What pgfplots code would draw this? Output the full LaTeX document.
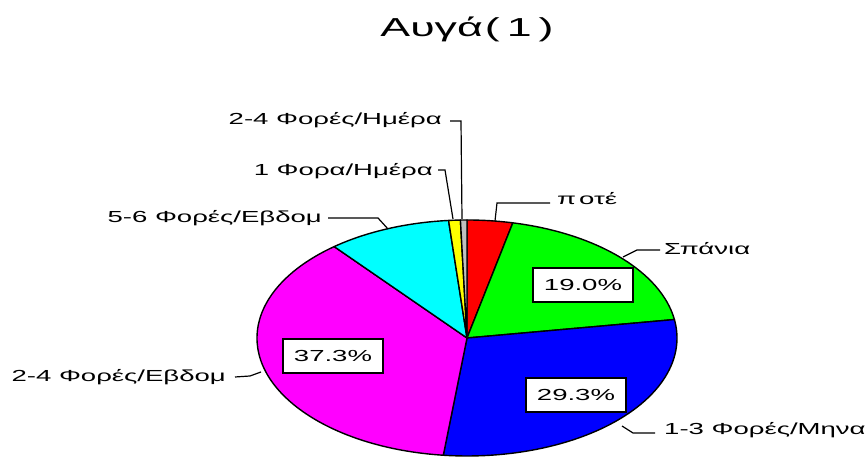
\documentclass[border=0pt]{standalone}
\usepackage{pgfplots}
\usepackage{pgfplotstable}
\pgfplotsset{compat=1.18}
\usepackage{fontspec}
\setmainfont{Liberation Sans}[FakeStretch=1.72]

\definecolor{pRed}{HTML}{FF0000}
\definecolor{pGreen}{HTML}{00FF00}
\definecolor{pBlue}{HTML}{0000FF}
\definecolor{pMagenta}{HTML}{FF00FF}
\definecolor{pCyan}{HTML}{00FFFF}
\definecolor{pYellow}{HTML}{FFFF00}
\definecolor{pGrey}{HTML}{C0C0C0}

% share of answers (%), clockwise from 12 o'clock
\pgfplotstableread{
value colour
3.5   pRed
19.0  pGreen
29.3  pBlue
37.3  pMagenta
9.5   pCyan
0.9   pYellow
0.5   pGrey
}\pietab

% start/end angles of every wedge (ellipse parameter, degrees)
\def\cum{0}
\pgfplotsinvokeforeach{0,...,6}{%
  \pgfplotstablegetelem{#1}{value}\of\pietab
  \let\v\pgfplotsretval
  \expandafter\xdef\csname pv#1\endcsname{\v}%
  \pgfplotstablegetelem{#1}{colour}\of\pietab
  \edef\tmp{\noexpand\colorlet{pie#1}{\pgfplotsretval}}\tmp
  \pgfmathsetmacro\a{90-3.6*\cum}%
  \pgfmathsetmacro\cumnew{\cum+\v}%
  \pgfmathsetmacro\b{90-3.6*\cumnew}%
  \expandafter\xdef\csname pa#1\endcsname{\a}%
  \expandafter\xdef\csname pb#1\endcsname{\b}%
  \xdef\cum{\cumnew}%
}

\def\cx{467}
\def\cy{119}
\def\rx{210}
\def\ry{118}

\begin{document}
\begin{tikzpicture}
\begin{axis}[
  hide axis, scale only axis,
  width=868pt, height=457pt,
  xmin=0, xmax=868, ymin=0, ymax=457,
  enlargelimits=false, clip=false,
]
\path (axis cs:0,0) rectangle (axis cs:868,457);

\pgfplotsinvokeforeach{0,...,6}{
  \fill[fill=pie#1, draw=black, line width=1.4pt, line join=round]
    (axis cs:\cx,\cy) --
    (axis cs:{\cx+\rx*cos(\csname pa#1\endcsname)},{\cy+\ry*sin(\csname pa#1\endcsname)})
    arc[start angle=\csname pa#1\endcsname, end angle=\csname pb#1\endcsname,
        x radius=\rx pt, y radius=\ry pt] -- cycle;
}

% title
\node[font=\fontsize{26}{29}\selectfont, text height=18.5pt, text depth=0pt, inner sep=0pt]
  at (axis cs:467,430) {Αυγά\hspace{2pt}(\hspace{7pt}1\hspace{7pt})};

% leader lines
\begin{scope}[line width=1.2pt, black]
\draw (axis cs:495,236) -- (axis cs:497,254) -- (axis cs:550,254);
\draw (axis cs:623,200) -- (axis cs:637,207) -- (axis cs:660,207);
\draw (axis cs:622,31) -- (axis cs:633,24) -- (axis cs:655,24);
\draw (axis cs:235,80) -- (axis cs:250,81) -- (axis cs:261,85);
\draw (axis cs:328,239) -- (axis cs:378,239) -- (axis cs:388,228);
\draw (axis cs:438,287) -- (axis cs:445,287) -- (axis cs:453,238);
\draw (axis cs:450,336) -- (axis cs:461,336) -- (axis cs:462,238);
\end{scope}

% category labels
\begin{scope}[every node/.style={font=\fontsize{16}{18}\selectfont,
    text height=11.5pt, text depth=0pt, inner sep=0pt}]
\node[anchor=west] at (axis cs:557,258) {π\hspace{3pt}οτέ};
\node[anchor=west] at (axis cs:664,208) {Σπάνια};
\node[anchor=west] at (axis cs:664,28) {1-3 Φορές/Μηνα};
\node[anchor=east] at (axis cs:226,81) {2-4 Φορές/Εβδομ};
\node[anchor=east] at (axis cs:322,240) {5-6 Φορές/Εβδομ};
\node[anchor=east] at (axis cs:433,287) {1 Φορα/Ημέρα};
\node[anchor=east] at (axis cs:442,338) {2-4 Φορές/Ημέρα};
\end{scope}

% value boxes
\begin{scope}[every node/.style={draw=black, fill=white, line width=1.2pt,
    minimum width=100pt, minimum height=34pt, inner sep=0pt,
    font=\fontsize{16}{18}\selectfont}]
\node at (axis cs:583,172) {\pgfmathprintnumber[fixed,precision=1,fixed zerofill,assume math mode=true]{\csname pv1\endcsname}\%};
\node at (axis cs:576,62) {\pgfmathprintnumber[fixed,precision=1,fixed zerofill,assume math mode=true]{\csname pv2\endcsname}\%};
\node at (axis cs:333,101) {\pgfmathprintnumber[fixed,precision=1,fixed zerofill,assume math mode=true]{\csname pv3\endcsname}\%};
\end{scope}
\end{axis}
\end{tikzpicture}
\end{document}
